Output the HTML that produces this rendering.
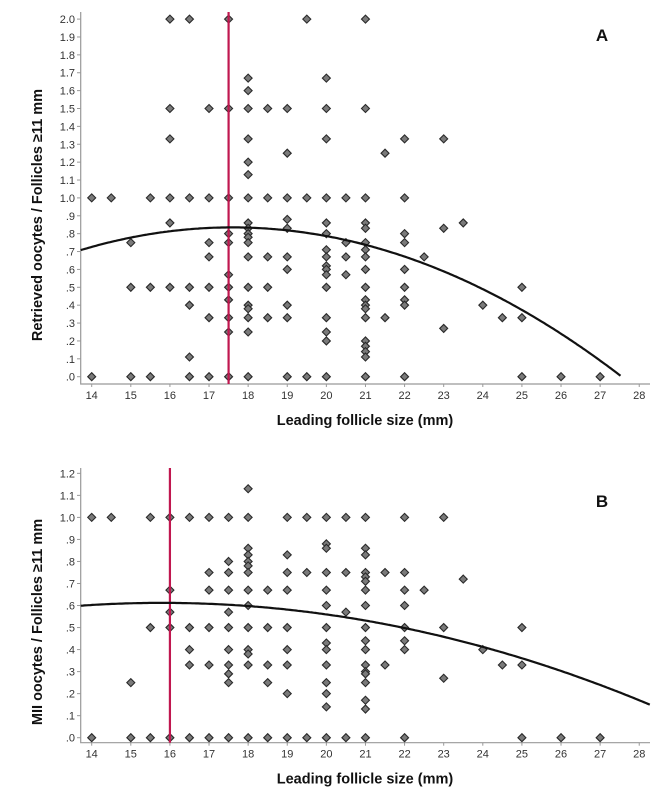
<!DOCTYPE html>
<html><head><meta charset="utf-8">
<style>
html,body{margin:0;padding:0;background:#fff;}
svg{display:block;font-family:"Liberation Sans",sans-serif;}
</style></head>
<body>
<svg id="chart" width="658" height="797" viewBox="0 0 658 797"></svg>
<script>
// ----- data -----
const xTicks = [14,15,16,17,18,19,20,21,22,23,24,25,26,27,28];
const aYTicks = [0,.1,.2,.3,.4,.5,.6,.7,.8,.9,1.0,1.1,1.2,1.3,1.4,1.5,1.6,1.7,1.8,1.9,2.0];
const bYTicks = [0,.1,.2,.3,.4,.5,.6,.7,.8,.9,1.0,1.1,1.2];
const aGroupX = [14,14.5,15,15.5,16,16.5,17,17.5,18,18.5,19,19.5,20,20.5,21,21.5,22,22.5,23,23.5,24,24.5,25,26,27];
const aGroupY = [
 [1.0,0],[1.0],[.75,.5,0],[1.0,.5,0],[2.0,1.5,1.33,1.0,.86,.5],[2.0,1.0,.5,.4,.11,0],
 [1.5,1.0,.75,.67,.5,.33,0],[2.0,1.5,1.0,.8,.75,.57,.5,.43,.33,.25,0],
 [1.67,1.6,1.5,1.33,1.2,1.13,1.0,.86,.83,.8,.78,.75,.67,.5,.4,.38,.33,.25,0],
 [1.5,1.0,.67,.5,.33],[1.5,1.25,1.0,.88,.83,.67,.6,.4,.33,0],[2.0,1.0,0],
 [1.67,1.5,1.33,1.0,.86,.8,.71,.67,.62,.6,.57,.5,.33,.25,.2,0],[1.0,.75,.67,.57],
 [2.0,1.5,1.0,.86,.83,.75,.71,.67,.6,.5,.43,.4,.38,.33,.2,.17,.14,.11,0],
 [1.25,.33],[1.33,1.0,.8,.75,.6,.5,.43,.4,0],[.67],[1.33,.83,.27],[.86],[.4],[.33],[.5,.33,0],[0],[0]
];
const bGroupX = [14,14.5,15,15.5,16,16.5,17,17.5,18,18.5,19,19.5,20,20.5,21,21.5,22,22.5,23,23.5,24,24.5,25,26,27];
const bGroupY = [
 [1.0,0],[1.0],[.25,0],[1.0,.5,0],[1.0,.67,.57,.5,0],[1.0,.5,.4,.33,0],
 [1.0,.75,.67,.5,.33,0],[1.0,.8,.75,.67,.57,.5,.4,.33,.29,.25,0],
 [1.13,1.0,.86,.83,.8,.78,.75,.67,.6,.5,.4,.38,.33,0],[.67,.5,.33,.25,0],
 [1.0,.83,.75,.67,.5,.4,.33,.2,0],[1.0,.75,0],
 [1.0,.88,.86,.75,.67,.6,.5,.43,.4,.33,.25,.2,.14,0],[1.0,.75,.57,0],
 [1.0,.86,.83,.75,.73,.71,.67,.6,.5,.44,.4,.33,.3,.29,.25,.17,.13,0],
 [.75,.33],[1.0,.75,.67,.6,.5,.44,.4,0],[.67],[1.0,.5,.27],[.72],[.4],[.33],[.5,.33,0],[0],[0]
];
// quadratic fit: vertex x, vertex y, curvature
const aFit = [17.6, 0.835, -0.00843];
const bFit = [15.8, 0.612, -0.00297];
const aRefLine = 17.5;
const bRefLine = 16;

const NS="http://www.w3.org/2000/svg";
const svg=document.getElementById('chart');
function mk(tag,attrs,parent){const e=document.createElementNS(NS,tag);for(const k in attrs)e.setAttribute(k,attrs[k]);(parent||svg).appendChild(e);return e;}

function panel(cfg){
  const g=mk('g',{});
  
  
  const X=v=>91.7+(v-14)*39.11;
  const Y=v=>cfg.y0-(v/0.1)*cfg.step;
  // axes
  const ax=mk('path',{d:`M80.7 ${cfg.top} V${cfg.bottom} H650`,fill:'none',stroke:'#999','stroke-width':1.2},g);
  
  
  cfg.yTicks.forEach(t=>{
    const y=Y(t);
    mk('line',{x1:77,x2:80.7,y1:y,y2:y,stroke:'#999'},g);
    const tx=mk('text',{x:75,y:y+4,'text-anchor':'end','font-size':11,fill:'#333'},g);
    tx.textContent=(t>=1?t.toFixed(1):'.'+Math.round(t*10));
    
    
  });
  xTicks.forEach(t=>{
    const x=X(t);
    mk('line',{x1:x,x2:x,y1:cfg.bottom,y2:cfg.bottom+3,stroke:'#999'},g);
    const tx=mk('text',{x:x,y:cfg.bottom+15,'text-anchor':'middle','font-size':11,fill:'#333'},g);
    tx.textContent=t;
    
    
  });
  // titles
  const xt=mk('text',{x:365,y:cfg.bottom+41,'text-anchor':'middle','font-size':14.5,'font-weight':'bold',fill:'#111'},g);
  xt.textContent='Leading follicle size (mm)';
  
  
  const yt=mk('text',{x:0,y:0,'text-anchor':'middle','font-size':14.5,'font-weight':'bold',fill:'#111',transform:`translate(42 ${cfg.ytY}) rotate(-90)`},g);
  yt.textContent=cfg.yTitle;
  
  
  const lb=mk('text',{x:602,y:cfg.labelY,'text-anchor':'middle','font-size':17,'font-weight':'bold',fill:'#111'},g);
  lb.textContent=cfg.label;
  
  
  // points
  cfg.gx.forEach((gx,i)=>{
    cfg.gy[i].forEach(v=>{
      const x=X(gx),y=Y(v);
      const p=mk('path',{d:`M${x} ${y-4}L${x+4} ${y}L${x} ${y+4}L${x-4} ${y}Z`,fill:'#7a7a7a',stroke:'#2a2a2a','stroke-width':1.1},g);
      
      
    });
  });
  // reference line
  const rl=mk('line',{x1:X(cfg.ref),x2:X(cfg.ref),y1:cfg.top,y2:cfg.bottom,stroke:'#c0174f','stroke-width':2.2},g);
  
  
  // fit curve
  let d='';
  const [vx,vy,a]=cfg.fit;
  for(let x=13.72;x<=28.3;x+=0.05){
    const v=vy+a*(x-vx)*(x-vx);
    if(v<0)break;
    d+=(d?'L':'M')+X(x).toFixed(1)+' '+Y(v).toFixed(1);
  }
  const fc=mk('path',{d:d,fill:'none',stroke:'#111','stroke-width':2.2},g);
  
  
}
panel({name:'chart-a',y0:376.7,step:17.88,top:12,bottom:384,yTicks:aYTicks,gx:aGroupX,gy:aGroupY,fit:aFit,ref:aRefLine,yTitle:'Retrieved oocytes / Follicles \u226511 mm',ytY:215,label:'A',labelY:41});
panel({name:'chart-b',y0:737.7,step:22.03,top:468,bottom:742.7,yTicks:bYTicks,gx:bGroupX,gy:bGroupY,fit:bFit,ref:bRefLine,yTitle:'MII oocytes / Follicles \u226511 mm',ytY:622,label:'B',labelY:507});
</script>
</body></html>
